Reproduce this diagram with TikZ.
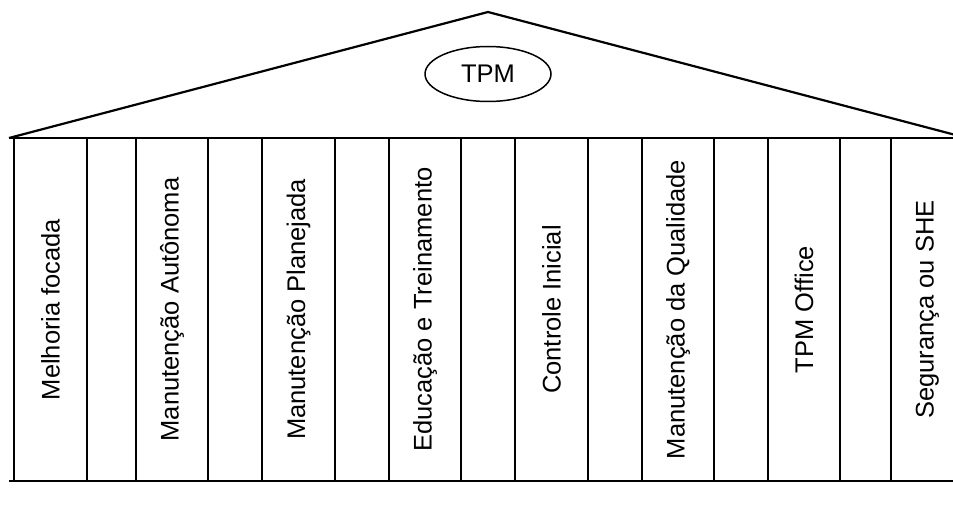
\documentclass[tikz,border=0pt]{standalone}
\usepackage{fontspec}
\setmainfont{Liberation Sans}
\usepackage{tikz}
\usetikzlibrary{positioning,shapes.geometric}

\begin{document}
\begin{tikzpicture}[x=1pt, y=-1pt,
    pillar/.style={draw, line width=1.6pt, rotate=90, minimum width=343pt, minimum height=72.5pt, inner sep=0pt},
    beam/.style={line width=2.2pt}]
    \clip (0,0) rectangle (953,508);
    \fontsize{25.5}{30}\selectfont

    % Roof
    \coordinate (eaveL) at (9,138);
    \coordinate (apex) at (488,12);
    \coordinate (eaveR) at (967,138);
    \draw[beam] (eaveL) -- (apex) -- (eaveR);
    \node[draw, ellipse, line width=1.5pt, minimum width=126pt, minimum height=55pt] (tpm) at (488,74) {TPM};

    % Pillars
    \foreach \xc/\txt [count=\i] in {50.5/{Melhoria focada}, 172/{Manutenção Autônoma},
        298.5/{Manutenção Planejada}, 425/{Educação e Treinamento}, 551.5/{Controle Inicial},
        678/{Manutenção da Qualidade}, 804/{TPM Office}, 927.5/{Segurança ou SHE}}
        \node[pillar] (p\i) at (\xc,309.5) {\txt};

    % Beam and floor
    \draw[beam] (eaveL) -- (eaveR);
    \coordinate (floorL) at (9,481);
    \coordinate (floorR) at (967,481);
    \draw[beam] (floorL) -- (floorR);
\end{tikzpicture}
\end{document}
